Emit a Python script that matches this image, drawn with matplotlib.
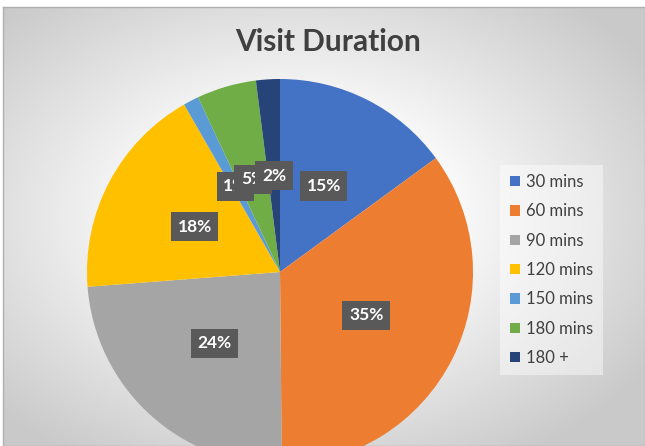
import numpy as np
import matplotlib.pyplot as plt

plt.rcParams["font.family"] = ["Lato", "DejaVu Sans"]

labels = ["30 mins", "60 mins", "90 mins", "120 mins", "150 mins", "180 mins", "180 +"]
values = [15, 35, 24, 18, 1.3, 5, 2]
colors = ["#4472c4", "#ed7d31", "#a5a5a5", "#ffc000", "#5b9bd5", "#70ad47", "#264478"]

fig = plt.figure(figsize=(6.45, 4.46), dpi=100)
fig.patch.set_facecolor("white")

# radial gradient background
bg = fig.add_axes([3 / 645, 0, 1 - 3 / 645, 1 - 7 / 446])
xx, yy = np.meshgrid(np.linspace(-1, 1, 400), np.linspace(-1, 1, 300))
d = np.sqrt(((xx + 0.08) / 1.0) ** 2 + ((yy + 0.05) / 1.0) ** 2)
shade = 1 - 0.21 * np.clip((d - 0.4) / 0.9, 0, 1)
bg.imshow(np.dstack([shade] * 3), aspect="auto", extent=[0, 1, 0, 1])
bg.set_xlim(0, 1)
bg.set_ylim(0, 1)
bg.set_xticks([])
bg.set_yticks([])
for s in bg.spines.values():
    s.set_color("#b0b0b0")
    s.set_linewidth(1)

# pie: centre (280, 272) px, radius 193 px
r = 193
ax = fig.add_axes([(280 - r) / 645, (446 - 272 - r) / 446, 2 * r / 645, 2 * r / 446])
ax.set_facecolor("none")
wedges, texts, autotexts = ax.pie(
    values, colors=colors, startangle=90, counterclock=False,
    autopct="%1.0f%%", pctdistance=0.5, radius=1,
    wedgeprops=dict(linewidth=0),
)
for t in autotexts:
    t.set_color("white")
    t.set_fontweight("bold")
    t.set_fontsize(12.5)
    t.set_bbox(dict(boxstyle="square,pad=0.38", facecolor="#595959", edgecolor="none"))
ax.set_xlim(-1, 1)
ax.set_ylim(-1, 1)
ax.set_aspect("auto")
ax.axis("off")

fig.text(328 / 645, 1 - 42 / 446, "Visit Duration", ha="center", va="center",
         fontsize=21.5, fontweight="bold", color="#404040")

# legend box
leg_ax = fig.add_axes([500 / 645, (446 - 375) / 446, 103 / 645, 210 / 446])
leg_ax.set_facecolor((1, 1, 1, 0.45))
leg_ax.set_xticks([])
leg_ax.set_yticks([])
for s in leg_ax.spines.values():
    s.set_visible(False)
leg = leg_ax.legend(wedges, labels, loc="center", frameon=False, fontsize=12,
                    handlelength=0.6, handleheight=0.6, handletextpad=0.4,
                    labelspacing=0.8, labelcolor="#404040")

fig.savefig("out.png", dpi=100)
